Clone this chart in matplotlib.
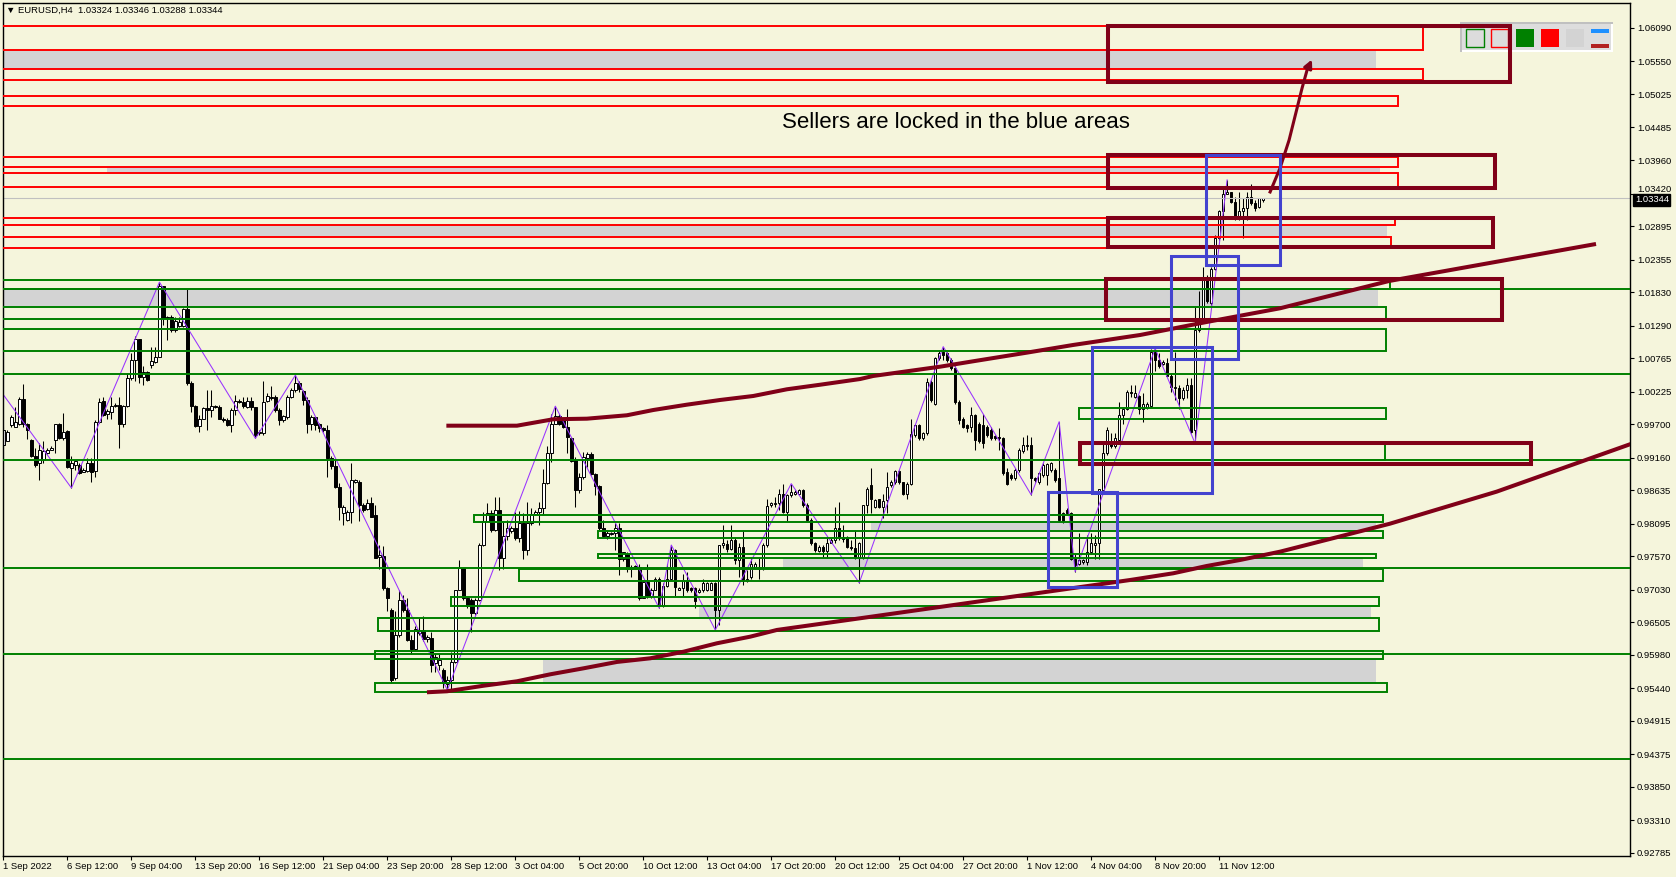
import matplotlib
matplotlib.use('Agg')
import matplotlib.pyplot as plt
from matplotlib.patches import Rectangle

plt.rcParams['font.family'] = ['Liberation Sans', 'DejaVu Sans']

W, H = 1676, 877
BG = '#F5F5DC'
MAROON = '#800018'
BLUE = '#4343CF'
GREEN = '#008000'

# EURUSD H4 candles, prices in units of 0.0001 (bar 0 = 1 Sep 20:00)
o_pips = [9936, 9943, 9969, 9966, 9971, 10010, 9971, 9945, 9918, 9907, 9912, 9924, 9929, 9944, 9970, 9947,
          9959, 9900, 9904, 9904, 9893, 9895, 9908, 9895, 9974, 10007, 9986, 9990, 9999, 10001, 9970, 9999,
          10044, 10074, 10107, 10046, 10054, 10066, 10070, 10078, 10193, 10143, 10143, 10122, 10128, 10128, 10155, 10037,
          9999, 9967, 9979, 9996, 9993, 9999, 9998, 9979, 9977, 9969, 9993, 10008, 10006, 9998, 10008, 9997,
          9955, 9955, 10008, 10013, 10014, 9993, 9976, 9982, 10014, 10025, 10036, 10024, 10009, 9971, 9981, 9971,
          9963, 9960, 9915, 9903, 9869, 9826, 9815, 9829, 9877, 9877, 9840, 9833, 9843, 9823, 9755, 9757,
          9705, 9671, 9560, 9630, 9686, 9670, 9622, 9608, 9633, 9638, 9623, 9625, 9584, 9582, 9573, 9551,
          9557, 9587, 9703, 9738, 9689, 9686, 9665, 9686, 9775, 9814, 9826, 9799, 9832, 9754, 9790, 9797,
          9802, 9786, 9811, 9767, 9810, 9825, 9829, 9834, 9875, 9924, 9971, 9983, 9977, 9966, 9947, 9912,
          9864, 9885, 9915, 9922, 9889, 9870, 9802, 9790, 9793, 9795, 9802, 9752, 9761, 9739, 9741, 9740,
          9690, 9716, 9692, 9703, 9721, 9677, 9709, 9720, 9767, 9703, 9705, 9717, 9705, 9705, 9700, 9702,
          9702, 9703, 9714, 9670, 9775, 9776, 9768, 9783, 9751, 9772, 9717, 9724, 9739, 9737, 9739, 9775,
          9839, 9841, 9842, 9858, 9829, 9856, 9857, 9857, 9863, 9839, 9815, 9779, 9766, 9772, 9766, 9779,
          9783, 9803, 9788, 9788, 9772, 9771, 9756, 9756, 9840, 9872, 9837, 9849, 9837, 9848, 9872, 9876,
          9894, 9876, 9858, 9874, 9952, 9968, 9947, 9955, 10038, 10003, 10076, 10087, 10084, 10073, 10060, 10006,
          9979, 9969, 9966, 9985, 9971, 9969, 9966, 9960, 9951, 9950, 9947, 9893, 9888, 9883, 9896, 9926,
          9934, 9936, 9883, 9877, 9888, 9888, 9896, 9896, 9883, 9826, 9831, 9826, 9753, 9745, 9748, 9748,
          9764, 9775, 9778, 9864, 9923, 9942, 9934, 9944, 9985, 9995, 10022, 10014, 10015, 9995, 9998, 9999,
          10090, 10073, 10067, 10068, 10047, 10028, 10028, 10012, 10025, 10033, 9961, 10122, 10141, 10208, 10165, 10221,
          10270, 10313, 10342, 10345, 10329, 10305, 10313, 10318, 10336, 10327, 10321, 10332]
h_pips = [9966, 9961, 9985, 9998, 10014, 10034, 9972, 9946, 9931, 9939, 9942, 9931, 9935, 9971, 9972, 9988,
          9961, 9918, 9912, 9907, 9899, 9915, 9915, 9977, 10012, 10014, 9994, 10014, 10004, 10014, 10001, 10052,
          10084, 10112, 10107, 10063, 10055, 10095, 10095, 10199, 10193, 10145, 10146, 10143, 10143, 10157, 10188, 10039,
          10001, 9985, 9998, 10025, 10025, 10001, 10001, 9982, 9980, 9996, 10017, 10010, 10014, 10014, 10014, 9998,
          9961, 10039, 10020, 10031, 10017, 9996, 9985, 10017, 10028, 10049, 10039, 10025, 10014, 9985, 9982, 9972,
          9966, 9969, 9918, 9912, 9875, 9840, 9832, 9907, 9881, 9880, 9842, 9850, 9852, 9840, 9775, 9774,
          9708, 9673, 9668, 9703, 9694, 9690, 9630, 9645, 9657, 9660, 9630, 9635, 9601, 9600, 9576, 9563,
          9603, 9703, 9751, 9738, 9689, 9689, 9689, 9778, 9829, 9842, 9832, 9853, 9853, 9812, 9815, 9805,
          9829, 9830, 9827, 9845, 9834, 9831, 9845, 9897, 9934, 9986, 9999, 9986, 9979, 9995, 9950, 9917,
          9891, 9925, 9925, 9925, 9891, 9872, 9815, 9799, 9796, 9810, 9810, 9764, 9764, 9743, 9743, 9745,
          9718, 9745, 9705, 9724, 9724, 9713, 9745, 9775, 9768, 9708, 9729, 9732, 9708, 9708, 9705, 9721,
          9716, 9716, 9716, 9775, 9807, 9783, 9807, 9786, 9778, 9799, 9735, 9756, 9748, 9756, 9778, 9850,
          9845, 9853, 9866, 9874, 9858, 9874, 9864, 9866, 9865, 9842, 9818, 9780, 9775, 9775, 9786, 9786,
          9837, 9845, 9808, 9790, 9783, 9799, 9780, 9840, 9869, 9899, 9850, 9850, 9858, 9893, 9880, 9896,
          9896, 9877, 9877, 9979, 9971, 9971, 9958, 10044, 10041, 10079, 10089, 10095, 10087, 10076, 10063, 10009,
          9982, 9971, 9998, 9987, 9974, 9987, 9969, 9966, 9952, 9963, 9950, 9899, 9891, 9899, 9931, 9950,
          9952, 9950, 9885, 9893, 9907, 9907, 9909, 9899, 9974, 9829, 9834, 9829, 9761, 9794, 9753, 9791,
          9794, 9791, 9866, 9942, 9966, 9955, 9955, 10006, 9998, 10025, 10033, 10033, 10017, 10020, 10006, 10092,
          10092, 10084, 10073, 10076, 10052, 10087, 10033, 10030, 10044, 10044, 10159, 10184, 10224, 10211, 10224, 10275,
          10315, 10350, 10364, 10345, 10337, 10345, 10334, 10345, 10358, 10331, 10334, 10335]
l_pips = [9934, 9942, 9966, 9965, 9969, 9966, 9946, 9917, 9901, 9880, 9907, 9922, 9928, 9923, 9946, 9945,
          9900, 9867, 9896, 9890, 9892, 9893, 9877, 9885, 9972, 9983, 9979, 9979, 9998, 9931, 9966, 9998,
          10041, 10039, 10036, 10033, 10039, 10060, 10068, 10078, 10130, 10106, 10119, 10119, 10126, 10127, 10033, 9990,
          9966, 9958, 9978, 9961, 9982, 9996, 9978, 9974, 9967, 9958, 9985, 10004, 9996, 9996, 9993, 9947,
          9953, 9953, 10006, 10009, 9990, 9969, 9974, 9979, 10012, 10022, 10022, 10001, 9955, 9961, 9961, 9958,
          9958, 9885, 9898, 9867, 9815, 9807, 9813, 9810, 9875, 9813, 9829, 9832, 9821, 9754, 9737, 9703,
          9668, 9552, 9558, 9627, 9667, 9620, 9600, 9606, 9630, 9620, 9618, 9571, 9571, 9574, 9544, 9541,
          9539, 9585, 9703, 9686, 9673, 9635, 9662, 9685, 9774, 9813, 9796, 9797, 9735, 9737, 9783, 9795,
          9783, 9780, 9753, 9759, 9807, 9823, 9807, 9825, 9874, 9909, 9970, 9969, 9963, 9923, 9909, 9836,
          9859, 9882, 9901, 9888, 9856, 9800, 9788, 9784, 9791, 9767, 9727, 9750, 9732, 9724, 9737, 9686,
          9689, 9689, 9690, 9702, 9673, 9675, 9708, 9718, 9693, 9702, 9692, 9700, 9700, 9673, 9697, 9700,
          9701, 9702, 9638, 9646, 9770, 9764, 9767, 9745, 9724, 9710, 9716, 9720, 9737, 9721, 9735, 9772,
          9837, 9837, 9831, 9826, 9813, 9853, 9856, 9856, 9837, 9813, 9775, 9764, 9764, 9756, 9756, 9778,
          9778, 9783, 9780, 9770, 9767, 9753, 9714, 9753, 9826, 9826, 9834, 9834, 9818, 9826, 9869, 9874,
          9874, 9856, 9850, 9872, 9950, 9944, 9944, 9952, 10006, 10001, 10073, 10073, 10071, 10057, 10003, 9971,
          9963, 9958, 9958, 9928, 9939, 9931, 9950, 9944, 9945, 9928, 9888, 9872, 9880, 9880, 9893, 9923,
          9928, 9856, 9877, 9874, 9885, 9872, 9893, 9877, 9813, 9810, 9823, 9751, 9732, 9743, 9745, 9743,
          9761, 9753, 9753, 9864, 9920, 9931, 9931, 9939, 9971, 9993, 10014, 10012, 9987, 9974, 9995, 9998,
          10055, 10060, 10065, 10047, 10022, 10009, 9995, 10009, 10012, 9955, 9939, 10119, 10138, 10165, 10162, 10219,
          10267, 10267, 10341, 10326, 10299, 10299, 10270, 10299, 10323, 10313, 10318, 10329]
c_pips = [9961, 9958, 9982, 9974, 10010, 9971, 9961, 9918, 9904, 9928, 9926, 9929, 9932, 9970, 9947, 9958,
          9901, 9908, 9910, 9891, 9896, 9908, 9893, 9974, 10006, 9985, 9991, 9999, 10001, 9970, 10000, 10044,
          10074, 10107, 10046, 10054, 10042, 10072, 10078, 10193, 10141, 10141, 10122, 10137, 10135, 10155, 10037, 9999,
          9967, 9979, 9996, 9993, 9999, 9997, 9979, 9977, 9969, 9993, 10008, 10006, 9999, 10008, 9998, 9953,
          9958, 10006, 10015, 10012, 9993, 9977, 9983, 10014, 10025, 10036, 10026, 10009, 9971, 9981, 9969, 9963,
          9961, 9915, 9902, 9869, 9837, 9837, 9829, 9880, 9880, 9840, 9832, 9843, 9821, 9754, 9759, 9705,
          9689, 9557, 9630, 9686, 9670, 9622, 9608, 9639, 9638, 9624, 9626, 9582, 9595, 9589, 9552, 9557,
          9587, 9703, 9738, 9689, 9676, 9665, 9686, 9775, 9814, 9826, 9799, 9832, 9754, 9790, 9803, 9802,
          9786, 9811, 9767, 9810, 9825, 9829, 9834, 9875, 9924, 9971, 9983, 9971, 9966, 9949, 9911, 9863,
          9885, 9917, 9922, 9889, 9870, 9802, 9789, 9794, 9795, 9802, 9752, 9763, 9737, 9737, 9739, 9690,
          9716, 9692, 9703, 9721, 9677, 9709, 9720, 9767, 9707, 9705, 9717, 9703, 9702, 9684, 9703, 9714,
          9714, 9714, 9670, 9775, 9778, 9768, 9783, 9751, 9772, 9717, 9721, 9745, 9745, 9740, 9775, 9838,
          9842, 9842, 9858, 9829, 9856, 9861, 9861, 9863, 9839, 9815, 9778, 9767, 9772, 9766, 9779, 9783,
          9803, 9786, 9784, 9772, 9771, 9755, 9778, 9840, 9866, 9850, 9848, 9837, 9846, 9869, 9876, 9894,
          9876, 9858, 9874, 9954, 9968, 9947, 9955, 10038, 10009, 10076, 10084, 10081, 10073, 10060, 10006, 9977,
          9966, 9963, 9985, 9944, 9942, 9939, 9952, 9947, 9947, 9947, 9891, 9874, 9883, 9896, 9928, 9936,
          9936, 9883, 9880, 9891, 9904, 9906, 9907, 9880, 9815, 9813, 9826, 9753, 9743, 9751, 9751, 9764,
          9778, 9778, 9866, 9923, 9961, 9934, 9947, 9985, 9995, 10022, 10020, 10020, 9995, 10003, 10003, 10087,
          10073, 10063, 10071, 10047, 10030, 10030, 10012, 10025, 10033, 9958, 10122, 10141, 10208, 10168, 10221, 10270,
          10313, 10342, 10345, 10329, 10305, 10313, 10318, 10336, 10326, 10318, 10334, 10334]

opens = [v / 10000 for v in o_pips]
highs = [v / 10000 for v in h_pips]
lows = [v / 10000 for v in l_pips]
closes = [v / 10000 for v in c_pips]

x_labels = ['1 Sep 2022', '6 Sep 12:00', '9 Sep 04:00', '13 Sep 20:00', '16 Sep 12:00', '21 Sep 04:00',
            '23 Sep 20:00', '28 Sep 12:00', '3 Oct 04:00', '5 Oct 20:00', '10 Oct 12:00', '13 Oct 04:00',
            '17 Oct 20:00', '20 Oct 12:00', '25 Oct 04:00', '27 Oct 20:00', '1 Nov 12:00', '4 Nov 04:00',
            '8 Nov 20:00', '11 Nov 12:00']
y_ticks = [1.06090, 1.05550, 1.05025, 1.04485, 1.03960, 1.03420, 1.02895, 1.02355, 1.01830, 1.01290,
           1.00765, 1.00225, 0.99700, 0.99160, 0.98635, 0.98095, 0.97570, 0.97030, 0.96505, 0.95980,
           0.95440, 0.94915, 0.94375, 0.93850, 0.93310, 0.92785]

# zigzag pivots (bar, price)
zz_bar = [0, 17, 39, 63, 73, 111, 138, 164, 167, 178, 197, 214, 235, 257, 264, 268, 288, 298, 306]
zz_price = [1.0017, 0.9867, 1.0199, 0.9947, 1.0049, 0.9541, 0.9999, 0.9673, 0.9775, 0.9638, 0.9874,
            0.9714, 1.0095, 0.9856, 0.9974, 0.9732, 1.0092, 0.9939, 1.0364]

# moving averages (shifted forward)
ma1_bar = [110.75, 128.4, 137.5, 145.9, 155.9, 162.5, 170.9, 179.25, 187.5, 195.9, 204.25, 214.25, 217.5,
           234.25, 242.5, 255.9, 267.5, 284.25, 300.9, 319.25, 346.5, 398.25]
ma1_price = [0.99675, 0.99675, 0.99779, 0.99788, 0.99843, 0.99928, 1.00014, 1.00090, 1.00154, 1.00262,
             1.00336, 1.00428, 1.00477, 1.00627, 1.00714, 1.00853, 1.00977, 1.01138, 1.01348, 1.01569,
             1.02009, 1.02606]
ma2_bar = [105.9, 110.9, 120.1, 128.4, 136.75, 145.1, 153.4, 161.75, 170.1, 178.4, 186.75, 193.4, 214.25,
           281.75, 292.5, 300.9, 309.25, 319.25, 346.65, 373.4, 408]
ma2_price = [0.95375, 0.95391, 0.95481, 0.95552, 0.95665, 0.95762, 0.95864, 0.95923, 0.96030, 0.96165,
             0.96272, 0.96380, 0.96569, 0.97186, 0.97294, 0.97412, 0.97509, 0.97643, 0.98093, 0.98611, 0.99404]

# arrow drawn by hand
arrow_bar = [316.75, 319.25, 321.5, 323.25, 324.75, 326.0, 327.5]
arrow_price = [1.03445, 1.03832, 1.04283, 1.04735, 1.05122, 1.05413, 1.05622]

# zones: thin red boxes (start off chart on the left)
red_top = [1.06122, 1.05421, 1.04993, 1.04009, 1.03751, 1.03025, 1.02719]
red_bot = [1.05735, 1.05251, 1.04832, 1.03848, 1.03525, 1.02912, 1.02549]
red_end = [355, 355, 348.75, 348.75, 348.75, 348, 347]

green_top = [1.02025, 1.01590, 1.01235, 0.99966, 0.99401, 0.98235, 0.97981, 0.97601, 0.97368, 0.96917,
             0.96569, 0.96046, 0.95520]
green_bot = [1.01880, 1.01396, 1.00880, 0.99779, 0.99122, 0.98127, 0.97864, 0.97537, 0.97175, 0.96767,
             0.96369, 0.95912, 0.95375]
green_start = [-5, -5, -5, 269, 269, 117.75, 148.75, 148.75, 129, 112, 93.75, 93, 93]
green_end = [346.75, 345.75, 345.75, 345.75, 345.5, 345, 345, 343.25, 345, 344, 344, 345, 346]

gray_top = [1.05735, 1.03848, 1.02912, 1.01880, 0.98127, 0.97537, 0.96767, 0.95912]
gray_bot = [1.05421, 1.03751, 1.02719, 1.01590, 0.97993, 0.97380, 0.96569, 0.95520]
gray_start = [-5, 26, 24.25, -5, 217, 195, 174, 135]
gray_end = [343.25, 344.25, 346, 343.75, 343.25, 340, 342, 343.25]

green_levels = [1.01880, 1.00509, 0.99122, 0.97380, 0.95993, 0.94300]

box_start = [276.25, 276.25, 276.25, 275.75, 269.25]
box_end = [376.75, 373, 372.5, 374.75, 382]
box_top = [1.06122, 1.04042, 1.03025, 1.02041, 0.99396]
box_bot = [1.05219, 1.03509, 1.02558, 1.01380, 0.99057]

blue_start = [300.6, 292, 272.25, 261.25]
blue_end = [319.25, 308.75, 302.25, 278.5]
blue_top = [1.04042, 1.02412, 1.00945, 0.98606]
blue_bot = [1.02267, 1.00751, 0.98590, 0.97073]

last_price = 1.03344

fig = plt.figure(figsize=(W / 100, H / 100), dpi=100, facecolor=BG)
ax = fig.add_axes([2.5 / W, 1 - 856 / H, (1630 - 2.5) / W, (856 - 3) / H])
ax.set_facecolor(BG)
ax.set_xlim(-0.25, 406.75)
ax.set_ylim(0.92734, 1.06493)


def box(x0, x1, top, bot, **kw):
    ax.add_patch(Rectangle((x0, bot), x1 - x0, top - bot, **kw))


for i in range(len(gray_top)):
    box(gray_start[i], gray_end[i], gray_top[i], gray_bot[i], facecolor='#D3D3D3', edgecolor='none', zorder=1)

# candles
bars = list(range(len(closes)))
ax.vlines(bars, lows, highs, color='black', lw=0.75, zorder=2)
for i in bars:
    up = closes[i] >= opens[i]
    lo, hi = min(opens[i], closes[i]), max(opens[i], closes[i])
    if hi - lo < 0.00003:
        ax.hlines(lo, i - 0.4, i + 0.4, color='black', lw=0.9, zorder=2.1)
    else:
        ax.add_patch(Rectangle((i - 0.3, lo), 0.6, hi - lo, facecolor='white' if up else 'black',
                               edgecolor='black', lw=0.7, zorder=2.1))

ax.plot(zz_bar, zz_price, color='#9933FF', lw=0.75, zorder=2.5)

for i in range(len(red_top)):
    box(-5, red_end[i], red_top[i], red_bot[i], fill=False, edgecolor='red', lw=1.4, zorder=3)
for i in range(len(green_top)):
    box(green_start[i], green_end[i], green_top[i], green_bot[i], fill=False, edgecolor=GREEN, lw=1.4, zorder=3)
for lvl in green_levels:
    ax.axhline(lvl, color=GREEN, lw=1.4, zorder=3)
ax.axhline(last_price, color='#C0C0C0', lw=0.8, zorder=2.2)

ax.plot(ma1_bar, ma1_price, color=MAROON, lw=2.9, zorder=3.5, solid_capstyle='butt')
ax.plot(ma2_bar, ma2_price, color=MAROON, lw=2.9, zorder=3.5, solid_capstyle='butt')

for i in range(len(box_top)):
    box(box_start[i], box_end[i], box_top[i], box_bot[i], fill=False, edgecolor=MAROON, lw=2.9, zorder=4)
for i in range(len(blue_top)):
    box(blue_start[i], blue_end[i], blue_top[i], blue_bot[i], fill=False, edgecolor=BLUE, lw=2.2, zorder=4.5)

ax.plot(arrow_bar[:-1], arrow_price[:-1], color=MAROON, lw=2.2, zorder=4)
ax.annotate('', xy=(arrow_bar[-1], arrow_price[-1]), xytext=(arrow_bar[-2], arrow_price[-2]),
            arrowprops=dict(arrowstyle='-|>', color=MAROON, lw=2.2, mutation_scale=12), zorder=4)

ax.text(238.1, 1.04558, 'Sellers are locked in the blue areas', fontsize=16, ha='center', va='center',
        color='black', zorder=5)

# little toolbar panel, top right
def fp(x, y):
    return x / W, 1 - y / H


def panel_rect(x0, y0, x1, y1, **kw):
    fx, fy = fp(x0, y1)
    ax.add_patch(Rectangle((fx, fy), (x1 - x0) / W, (y1 - y0) / H, transform=fig.transFigure,
                           clip_on=False, **kw))


panel_rect(1460, 22, 1613, 52, facecolor='#C0C0C0', edgecolor='none', zorder=3.6)
panel_rect(1462, 24, 1613, 52, facecolor='#FFFFFF', edgecolor='none', zorder=3.61)
panel_rect(1462, 24, 1611, 50, facecolor='#DDDDDD', edgecolor='none', zorder=3.62)
panel_rect(1466, 29, 1484, 47, facecolor='#DCDCDC', edgecolor=GREEN, lw=1, zorder=3.7)
panel_rect(1491, 29, 1508, 47, facecolor='#DCDCDC', edgecolor='red', lw=1, zorder=3.7)
panel_rect(1516, 29, 1534, 47, facecolor=GREEN, edgecolor='none', zorder=3.7)
panel_rect(1541, 29, 1559, 47, facecolor='red', edgecolor='none', zorder=3.7)
panel_rect(1566, 29, 1584, 47, facecolor='#D3D3D3', edgecolor='none', zorder=3.7)
panel_rect(1591, 29, 1609, 33, facecolor='#1E90FF', edgecolor='none', zorder=3.7)
panel_rect(1591, 44, 1609, 48, facecolor='#B22222', edgecolor='none', zorder=3.7)

# axes styling
for s in ax.spines.values():
    s.set_color('black')
    s.set_linewidth(1.0)
ax.yaxis.tick_right()
ax.set_yticks(y_ticks)
# the 1.03420 label sits partly behind the price box in the terminal; lift it a little
ax.set_yticklabels(['' if v == 1.03420 else f'{v:.5f}' for v in y_ticks])
ax.tick_params(axis='y', length=3, width=0.8, pad=2, labelsize=6.8, colors='black')
ax.annotate('1.03420', xy=(1.0, 1.03420), xycoords=('axes fraction', 'data'), xytext=(5, 3),
            textcoords='offset points', ha='left', va='center', fontsize=6.8, annotation_clip=False)
ax.set_xticks([16 * k for k in range(len(x_labels))])
ax.set_xticklabels(x_labels, ha='left')
ax.tick_params(axis='x', length=3, width=0.8, pad=1.5, labelsize=6.8, colors='black')

ax.annotate(f'{last_price:.5f}', xy=(1.0, last_price), xycoords=('axes fraction', 'data'),
            xytext=(3.5, -1), textcoords='offset points', ha='left', va='center', fontsize=6.8,
            color='white', annotation_clip=False, zorder=10,
            bbox=dict(boxstyle='square,pad=0.15', facecolor='black', edgecolor='black'))

fig.text(6 / W, 1 - 10.5 / H, '\u25BC EURUSD,H4  1.03324 1.03346 1.03288 1.03344', fontsize=6.8,
         ha='left', va='center', color='black')

fig.savefig('out.png', dpi=100, facecolor=BG)
